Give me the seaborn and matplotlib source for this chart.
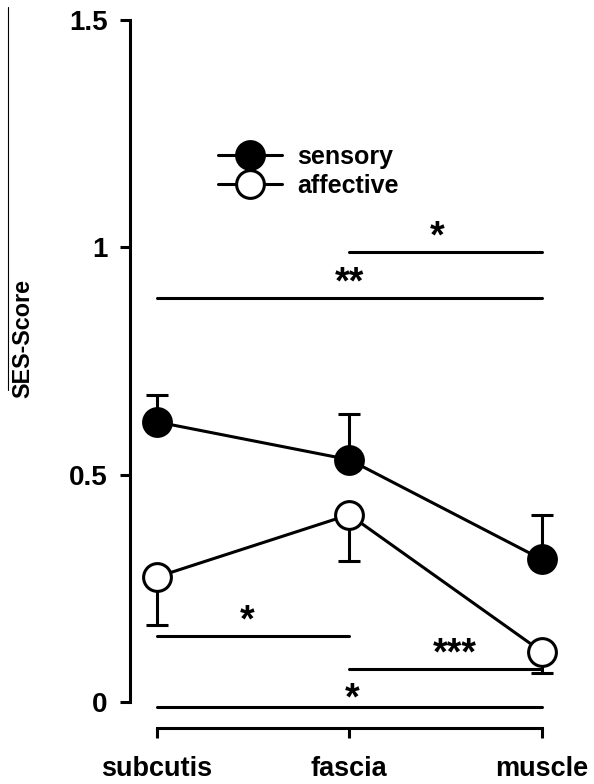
import matplotlib
matplotlib.use("Agg")
import matplotlib.pyplot as plt
from matplotlib.lines import Line2D
import seaborn as sns
import pandas as pd
import numpy as np

# ---- data ----
categories = ["subcutis", "fascia", "muscle"]
series = ["sensory", "affective"]
sensory = [0.616, 0.533, 0.314]
sensory_err = [0.059, 0.100, 0.097]      # drawn upward
affective = [0.275, 0.412, 0.111]
affective_err = [0.106, 0.102, 0.047]    # drawn downward

sig_from = [1, 0, 0, 1, 0]
sig_to = [2, 2, 1, 2, 2]
sig_y = [0.99, 0.889, 0.145, 0.0726, -0.011]
sig_labels = ["*", "**", "*", "***", "*"]

yticks = [0, 0.5, 1, 1.5]
ytick_labels = ["0", "0.5", "1", "1.5"]

# label nudges (points)
sig_dx = [-6, 0, -4, 7, 2]
sig_dy = [3, 3, 3, 3, -2]

sns.set_style("ticks")
plt.rcParams["font.family"] = ["Liberation Sans", "DejaVu Sans"]
plt.rcParams["font.weight"] = "bold"
for k in ["text.color", "axes.labelcolor", "xtick.color", "ytick.color", "axes.edgecolor"]:
    plt.rcParams[k] = "black"

df = pd.DataFrame({
    "tissue": categories * 2,
    "score": sensory + affective,
    "type": [series[0]] * 3 + [series[1]] * 3,
})

W, H = 594, 784
fig = plt.figure(figsize=(W / 100, H / 100), dpi=100)
ax = fig.add_axes([130 / W, 1 - 728 / H, 450 / W, 708 / H])

lw = 2.2
x_pos = np.arange(len(categories))

# one-sided error bars
ax.errorbar(x_pos, sensory, yerr=[np.zeros(3), sensory_err], fmt="none",
            ecolor="black", elinewidth=lw, capsize=8, capthick=lw, zorder=1,
            clip_on=False)
ax.errorbar(x_pos, affective, yerr=[affective_err, np.zeros(3)], fmt="none",
            ecolor="black", elinewidth=lw, capsize=8, capthick=lw, zorder=1,
            clip_on=False)

n_before = len(ax.lines)
sns.pointplot(data=df, x="tissue", y="score", hue="type", order=categories,
              hue_order=series, palette=["black", "black"], markers=["o", "o"],
              linestyles=["-", "-"], errorbar=None, ax=ax, legend=False,
              markersize=20, linewidth=lw, markeredgewidth=lw)
pt_lines = ax.lines[n_before:]
face = {0: "black", 1: "white"}
for i, l in enumerate(pt_lines):
    l.set_markerfacecolor(face[i % 2])
    l.set_markeredgecolor("black")
    l.set_zorder(3)
    l.set_clip_on(False)

# significance bars
for a, b, y, lab, dx, dy in zip(sig_from, sig_to, sig_y, sig_labels, sig_dx, sig_dy):
    ax.plot([x_pos[a], x_pos[b]], [y, y], color="black", lw=lw,
            solid_capstyle="round", clip_on=False, zorder=2)
    ax.annotate(lab, xy=((x_pos[a] + x_pos[b]) / 2, y), xytext=(dx, dy),
                textcoords="offset points", ha="center", va="baseline",
                fontsize=27, fontweight="bold", annotation_clip=False)

ax.set_xlim(-0.14, 2.2)
ax.set_ylim(-0.0572, 1.5)
ax.set_yticks(yticks)
ax.set_yticklabels(ytick_labels)
ax.set_xticks(x_pos)
ax.set_xticklabels(categories)
ax.set_xlabel("")
ax.set_ylabel("")

for s in ["top", "right"]:
    ax.spines[s].set_visible(False)
ax.spines["left"].set_bounds(0, 1.5)
ax.spines["bottom"].set_bounds(0, 2)
for s in ["left", "bottom"]:
    ax.spines[s].set_linewidth(lw)
ax.tick_params(axis="y", length=7.2, width=lw, pad=9, labelsize=20, direction="out")
ax.tick_params(axis="x", length=7.2, width=lw, pad=13, labelsize=19.5, direction="out")
for t in ax.get_xticklabels() + ax.get_yticklabels():
    t.set_fontweight("bold")

# legend
handles = [
    Line2D([], [], color="black", lw=lw, marker="o", markersize=20,
           markerfacecolor="black", markeredgecolor="black", markeredgewidth=lw),
    Line2D([], [], color="black", lw=lw, marker="o", markersize=20,
           markerfacecolor="white", markeredgecolor="black", markeredgewidth=lw),
]
leg = ax.legend(handles, series, loc="upper left", frameon=False,
                bbox_to_anchor=(218 / W, 1 - 145 / H),
                bbox_transform=fig.transFigure, borderpad=0, borderaxespad=0,
                handlelength=2.56, handletextpad=0.6, labelspacing=0.2,
                prop={"size": 18, "weight": "bold"})

# y label
fig.text(23 / W, 1 - 338 / H, "SES-Score", rotation=90, ha="center",
         va="center", fontsize=16.8, fontweight="bold")

# thin crop-edge line at far left
fig.add_artist(Line2D([8 / W, 8 / W], [1 - 7 / H, 1 - 390 / H],
                      color="black", lw=0.8))

fig.savefig("out.png", dpi=100)
